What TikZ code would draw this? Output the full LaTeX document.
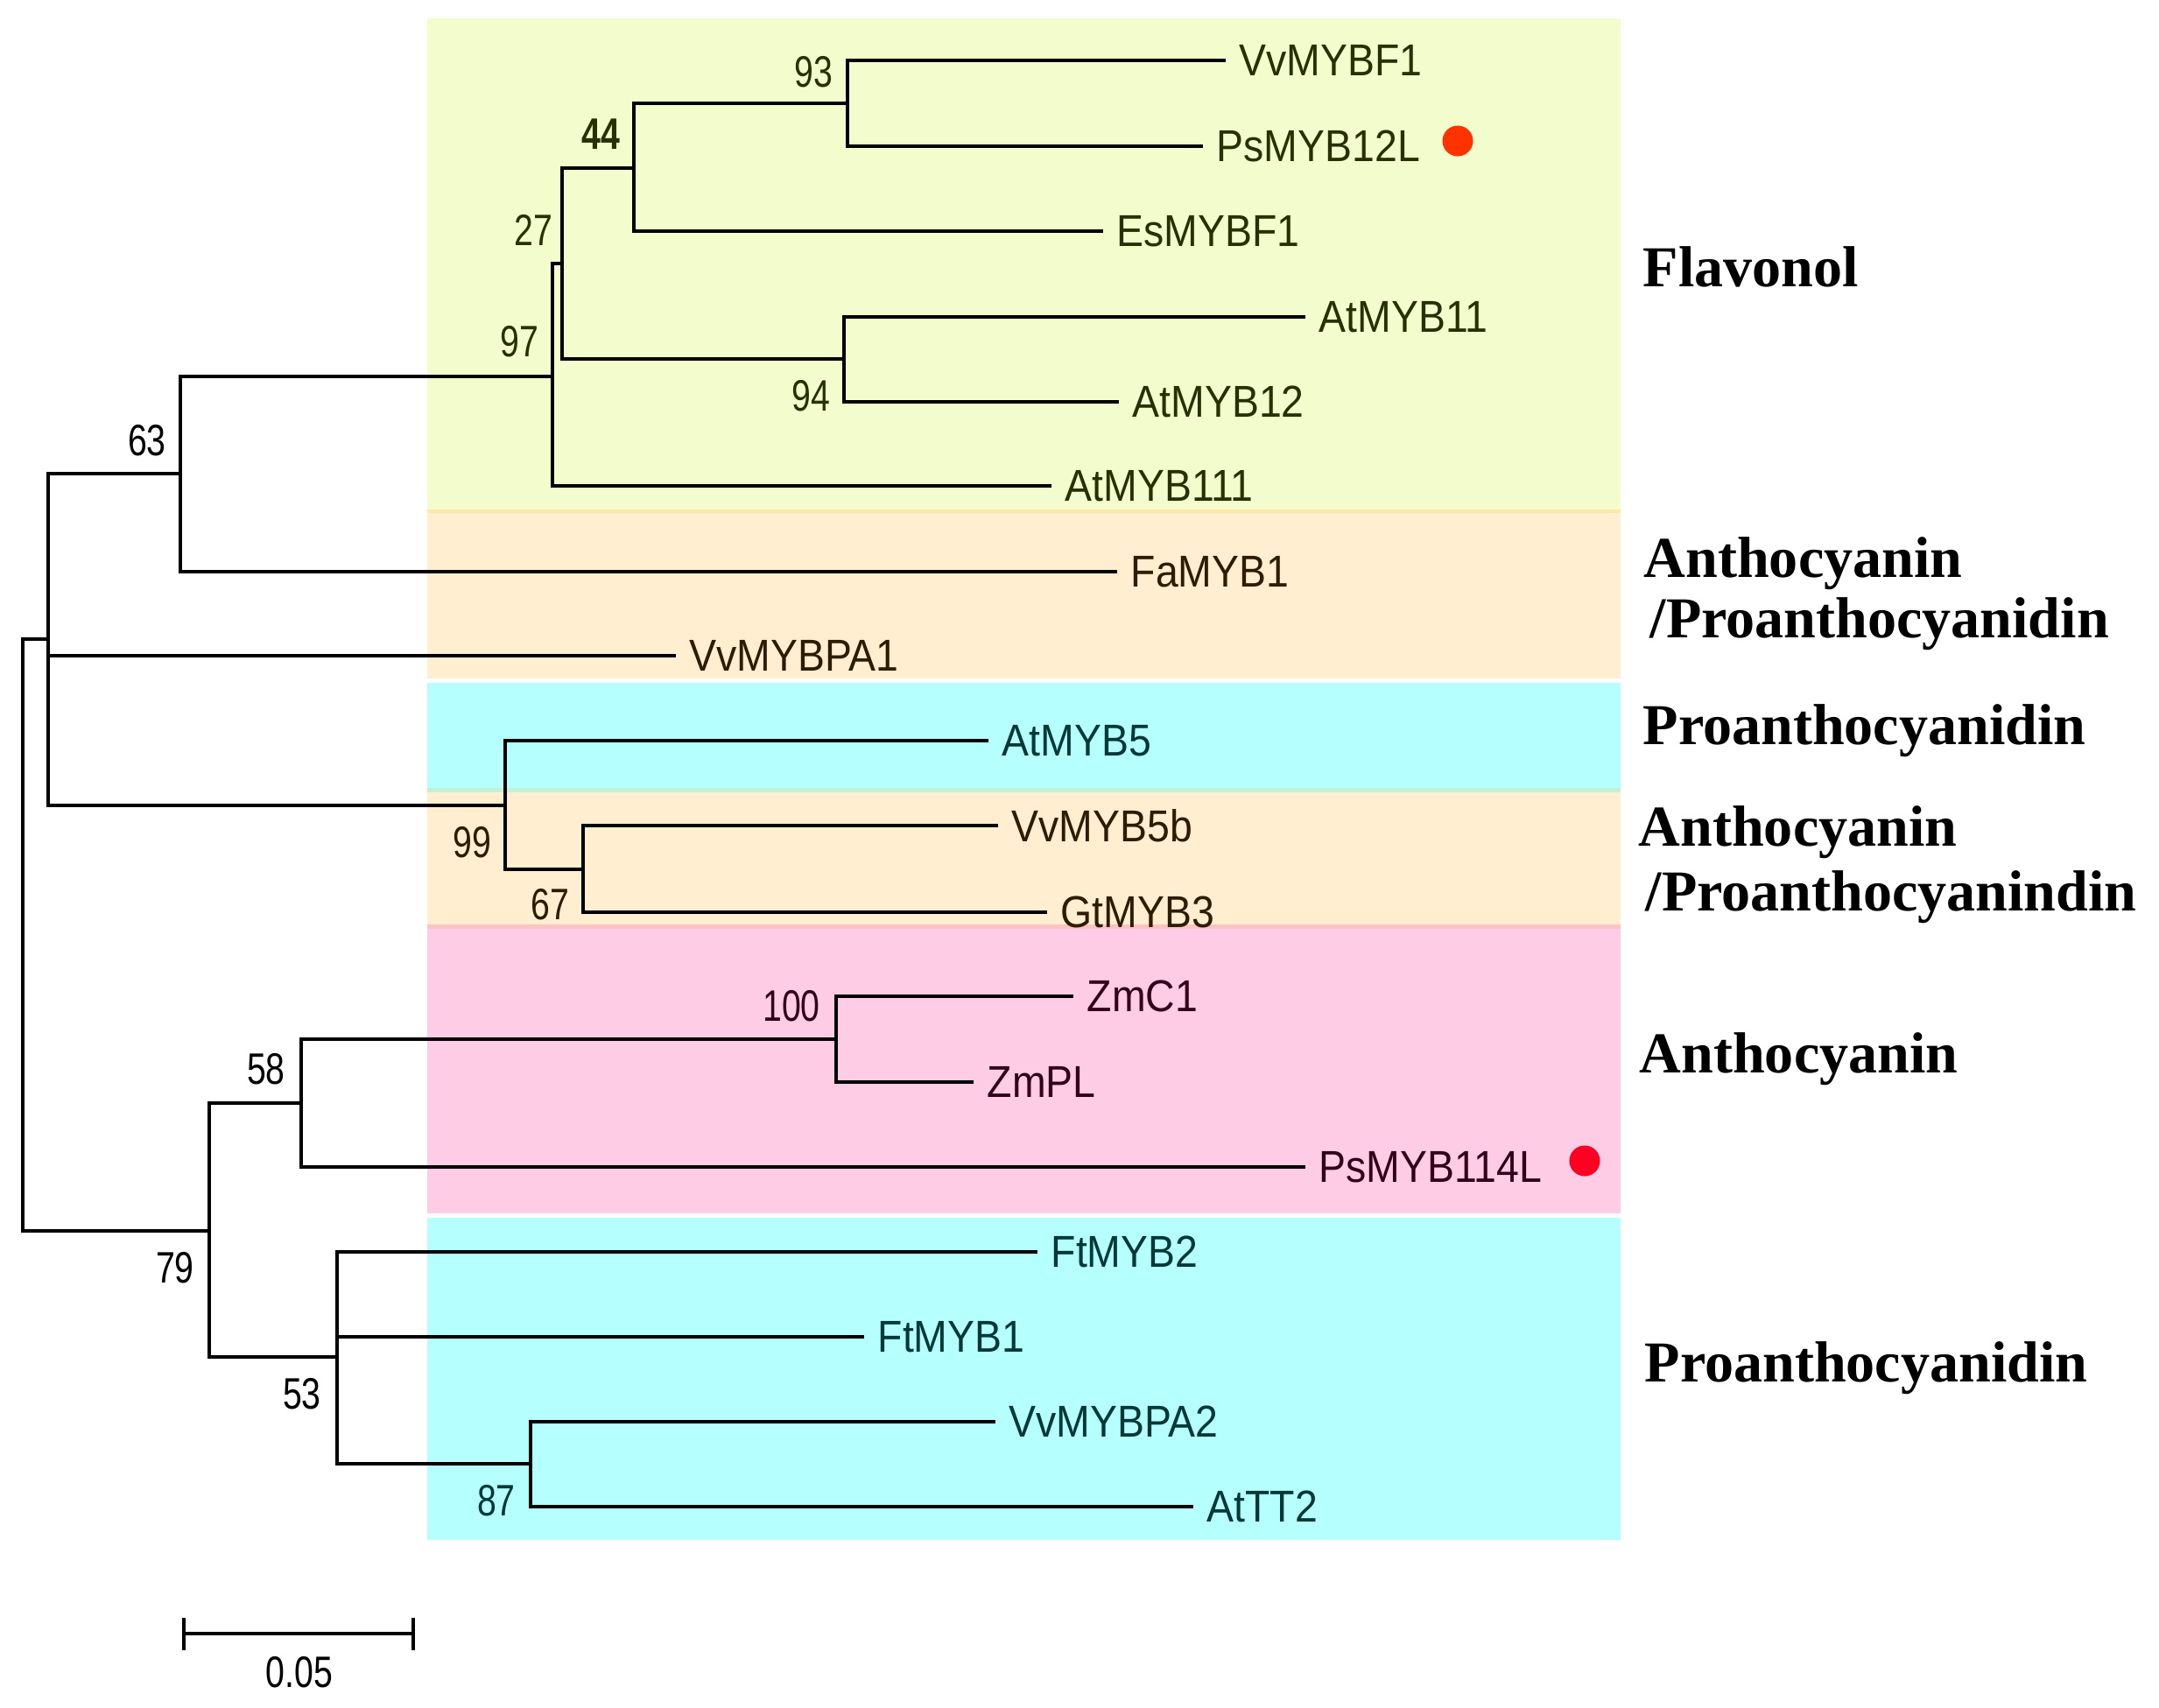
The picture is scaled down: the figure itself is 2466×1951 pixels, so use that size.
\documentclass[tikz,border=0pt]{standalone}
\usepackage{fontspec}
\usetikzlibrary{positioning}
\newfontfamily\leaffont[FakeStretch=0.91]{Liberation Sans}
\newfontfamily\bootfont[FakeStretch=0.78]{Liberation Sans}
\newfontfamily\cladefont{Liberation Serif}

\definecolor{flavbox}{HTML}{F2FCCC}
\definecolor{anthbox}{HTML}{FFEFD0}
\definecolor{proabox}{HTML}{B5FFFF}
\definecolor{pinkbox}{HTML}{FFCCE5}
\definecolor{flavedge}{HTML}{FCE9A3}
\definecolor{proaedge}{HTML}{C2F2D6}
\definecolor{pinkedge}{HTML}{FFC2C2}
\definecolor{flavtext}{HTML}{263000}
\definecolor{anthtext}{HTML}{2E1C00}
\definecolor{proatext}{HTML}{003838}
\definecolor{pinktext}{HTML}{33001A}
\definecolor{hitorange}{HTML}{FF3300}
\definecolor{hitred}{HTML}{FF0022}

\tikzset{
	branch/.style={line width=1.15pt},
	leaf/.style={anchor=west, inner xsep=0.15cm, inner ysep=0pt, font=\leaffont\fontsize{14.5}{16}\selectfont},
	boot/.style={inner sep=0pt, font=\bootfont\fontsize{14.3}{16}\selectfont},
	clade/.style={anchor=west, align=left, inner sep=0pt, font=\cladefont\bfseries\fontsize{18.8}{19.6}\selectfont},
	hit/.style={circle, fill=#1, inner sep=0pt, minimum size=0.35cm}
}

\begin{document}
\begin{tikzpicture}[x=0.01cm, y=-0.01cm]
		\useasboundingbox (0, 0) rectangle (2466, 1951);
		% clade boxes
		\foreach \top/\bot/\col in {21/582/flavbox, 582/586/flavedge, 586/775/anthbox, 780/900/proabox, 900/905/proaedge, 905/1056/anthbox, 1056/1061/pinkedge, 1061/1386/pinkbox, 1391/1759/proabox}
			\fill[\col] (488, \top) rectangle (1851, \bot);
		% inner nodes of the tree
		\coordinate (root) at (26, 1068);
		\coordinate (n55) at (55, 730);
		\coordinate (n63) at (206, 541);
		\coordinate (n97) at (631, 430);
		\coordinate (n27) at (642, 301);
		\coordinate (n44) at (724, 192);
		\coordinate (n93) at (968, 118);
		\coordinate (n94) at (964, 410);
		\coordinate (n99) at (577, 920);
		\coordinate (n67) at (666, 993);
		\coordinate (n79) at (239, 1406);
		\coordinate (n58) at (344, 1260);
		\coordinate (n100) at (955, 1187);
		\coordinate (n53) at (385, 1550);
		\coordinate (n87) at (606, 1672);
		% leaves
		\foreach \name/\x/\y/\col in {VvMYBF1/1400/69/flavtext, PsMYB12L/1374/167/flavtext, EsMYBF1/1260/264/flavtext, AtMYB11/1491/362/flavtext, AtMYB12/1278/459/flavtext, AtMYB111/1201/555/flavtext, FaMYB1/1276/653/anthtext, VvMYBPA1/772/749/anthtext, AtMYB5/1129/846/proatext, VvMYB5b/1140/943/anthtext, GtMYB3/1196/1042/anthtext, ZmC1/1226/1138/pinktext, ZmPL/1112/1236/pinktext, PsMYB114L/1491/1333/pinktext, FtMYB2/1185/1430/proatext, FtMYB1/987/1527/proatext, VvMYBPA2/1137/1624/proatext, AtTT2/1363/1721/proatext}
			\node[leaf, text=\col] (\name) at (\x, \y) {\name};
		% branches
		\foreach \p/\c in {root/n55, root/n79, n55/n63, n55/VvMYBPA1, n55/n99, n63/n97, n63/FaMYB1, n97/n27, n97/AtMYB111, n27/n44, n27/n94, n44/n93, n44/EsMYBF1, n93/VvMYBF1, n93/PsMYB12L, n94/AtMYB11, n94/AtMYB12, n99/AtMYB5, n99/n67, n67/VvMYB5b, n67/GtMYB3, n79/n58, n79/n53, n58/n100, n58/PsMYB114L, n100/ZmC1, n100/ZmPL, n53/FtMYB2, n53/FtMYB1, n53/n87, n87/VvMYBPA2, n87/AtTT2}
			\draw[branch] (\p) |- (\c);
		% bootstrap values
		\node[boot, text=flavtext] (b93) at (929, 82) {93};
		\node[boot, text=flavtext, font=\bootfont\bfseries\fontsize{14.3}{16}\selectfont] (b44) at (686, 153) {44};
		\node[boot, text=flavtext] (b27) at (609, 263) {27};
		\node[boot, text=flavtext] (b97) at (593, 390) {97};
		\node[boot, text=flavtext] (b94) at (926, 452) {94};
		\node[boot] (b63) at (168, 503) {63};
		\node[boot, text=anthtext] (b99) at (539, 962) {99};
		\node[boot, text=anthtext] (b67) at (628, 1033) {67};
		\node[boot, text=pinktext] (b100) at (904, 1149) {100};
		\node[boot] (b58) at (304, 1221) {58};
		\node[boot] (b79) at (200, 1448) {79};
		\node[boot] (b53) at (345, 1592) {53};
		\node[boot, text=proatext] (b87) at (567, 1714) {87};
		% marked genes
		\node[hit=hitorange] (dot12) at (1665, 161) {};
		\node[hit=hitred] (dot114) at (1810, 1326) {};
		% clade names
		\node[clade] (flav) at (1876, 305) {Flavonol};
		\node[clade] (anpr) at (1877, 678) {Anthocyanin\\\hspace{0.07cm}/Proanthocyanidin};
		\node[clade] (proa) at (1876, 835) {Proanthocyanidin};
		\node[clade, font=\cladefont\bfseries\fontsize{18.8}{21}\selectfont] (anprd) at (1871, 988) {Anthocyanin\\\hspace{0.08cm}/Proanthocyanindin};
		\node[clade] (anth) at (1872, 1210) {Anthocyanin};
		\node[clade] (prob) at (1878, 1563) {Proanthocyanidin};
		% scale bar
		\draw[branch] (210, 1866) -- (472, 1866);
		\draw[branch] (210, 1848) -- (210, 1885);
		\draw[branch] (472, 1848) -- (472, 1885);
		\node[boot] (scl) at (342, 1910) {0.05};
	\end{tikzpicture}
\end{document}
